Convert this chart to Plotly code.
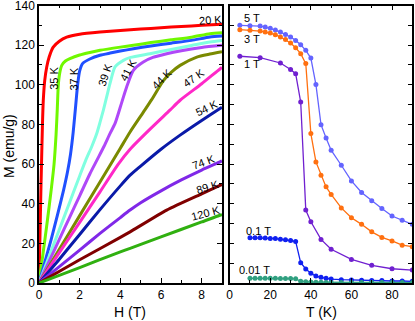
import plotly.graph_objects as go

W, H = 415, 321

# ---------------- Left panel: M(H) isotherms ----------------
temps = ["20 K", "35 K", "37 K", "39 K", "41 K", "44 K", "47 K", "54 K", "74 K", "89 K", "120 K"]
colors_l = ["#ff0000", "#70f800", "#2050ff", "#80ffe0", "#b048f8", "#7a8a00",
            "#ff28c8", "#0a1aa8", "#8028e8", "#800000", "#30b010"]

H_20 = [0, 0.03, 0.07, 0.1, 0.13, 0.17, 0.21, 0.28, 0.38, 0.5, 0.7, 1.0, 1.36, 2, 3, 4, 5, 6, 7, 8, 9]
M_20 = [0, 15, 35, 50, 63, 80, 92, 102, 109, 114, 119, 122, 124, 125.5, 126.6, 127.4, 128.1, 128.8, 129.4, 130, 130.5]

H_35 = [0, 0.2, 0.4, 0.6, 0.74, 0.84, 0.9, 0.95, 1.02, 1.12, 1.3, 1.52, 2, 2.5, 3, 4, 4.64, 5.5, 6.5, 7.5, 8.41, 9]
M_35 = [0, 15, 30.5, 47, 60, 75, 88, 100, 106, 109.8, 112, 113.2, 115, 116.3, 117.4, 119, 119.9, 121.3, 122.7, 124, 125.8, 126.3]

H_37 = [0, 0.3, 0.6, 0.9, 1.2, 1.4, 1.55, 1.68, 1.8, 1.9, 2.0, 2.15, 2.5, 3, 3.5, 4, 4.64, 5.5, 6.5, 7.5, 8.41, 9]
M_37 = [0, 11, 22, 34, 46.5, 56, 65, 76, 89, 100, 107, 110.8, 113, 114.9, 116, 117, 118.2, 119.6, 121, 122.4, 124.1, 124.6]

H_39 = [0, 0.5, 1, 1.5, 2, 2.3, 2.6, 2.84, 3.0, 3.16, 3.33, 3.49, 3.74, 4.15, 4.5, 5.46, 6.5, 7.5, 8.41, 9]
M_39 = [0, 13.5, 27, 40.5, 54, 62, 69, 75.4, 81, 87, 94, 100.6, 109, 112.3, 113.8, 115.7, 117.8, 119.8, 121.6, 122.4]

H_41 = [0, 0.5, 1, 1.5, 2, 2.5, 2.85, 3.2, 3.49, 3.74, 4.0, 4.31, 4.64, 5.13, 5.6, 6.28, 7, 8, 9]
M_41 = [0, 11, 22, 33, 44, 55, 62, 69, 75.4, 80.5, 88.8, 98.9, 107.3, 111.5, 113.8, 115.7, 117.2, 118.8, 119.9]

H_44 = [0, 1, 2, 3, 4, 4.48, 5.2, 5.54, 6.11, 6.5, 6.94, 7.76, 8.4, 9]
M_44 = [0, 17, 34, 51, 68, 76.2, 87.2, 92.5, 102, 106.3, 109.8, 114, 115.5, 116.7]

H_47 = [0, 1, 2, 3, 3.9, 4.48, 5.5, 6.44, 6.94, 8, 8.9, 9]
M_47 = [0, 15.3, 30.6, 46, 60, 67.5, 78, 87.2, 92.2, 100.5, 108, 108.7]

H_54 = [0, 1, 2, 3, 4, 4.48, 5, 6, 6.94, 8, 8.9, 9]
M_54 = [0, 12, 24.5, 37, 49, 54.4, 59, 67.5, 74.6, 82, 88, 88.6]

H_74 = [0, 1, 2, 3, 4, 4.48, 5, 6, 7, 8, 8.9, 9]
M_74 = [0, 8.3, 16.6, 25, 33, 36.8, 40.5, 46.5, 52, 57, 61.1, 61.6]

H_89 = [0, 2, 4, 4.48, 6.28, 8, 8.9, 9]
M_89 = [0, 11.7, 23, 25.8, 36.8, 45, 49.2, 49.6]

H_120 = [0, 2, 4, 4.48, 6, 8, 8.9, 9]
M_120 = [0, 7.8, 15.7, 17.5, 23.3, 30.8, 34.2, 34.5]

H_all = [H_20, H_35, H_37, H_39, H_41, H_44, H_47, H_54, H_74, H_89, H_120]
M_all = [M_20, M_35, M_37, M_39, M_41, M_44, M_47, M_54, M_74, M_89, M_120]

# label positions (data coords of left panel) and angles
lab_H = [8.41, 0.7, 1.72, 3.25, 4.39, 6.03, 7.59, 8.25, 8.11, 8.28, 8.21]
lab_M = [132.5, 103.1, 103.1, 104.8, 107.3, 103.1, 103.6, 88.5, 61.1, 48.5, 35.4]
lab_ang = [-4, -90, -90, -72, -62, -45, -35, -25, -20, -17, -15]

# ---------------- Right panel: M(T) at fixed field ----------------
fields = ["5 T", "3 T", "1 T", "0.1 T", "0.01 T"]
colors_r = ["#6464ff", "#ff7010", "#7020d0", "#1020f0", "#30a080"]

T_5 = [5, 10, 15, 17.5, 20, 22.5, 25, 27.5, 30, 32.5, 35, 37.5, 40, 42.5, 45, 47.5, 50,
       55, 60, 65, 70, 75, 80, 85, 90]
M_5 = [130, 129.8, 129.6, 129.1, 128.5, 127.6, 126.6, 125.4, 124.1, 122.4, 120.2, 117.4, 113.5,
       100.1, 79.9, 73.2, 67, 59.4, 51.5, 45.7, 41.5, 37.6, 33.8, 31.7, 29.6]

T_3 = [5, 10, 15, 17.5, 20, 22.5, 25, 27.5, 30, 32.5, 35, 37.5, 40, 42.5, 45, 47.5, 50,
       55, 60, 65, 70, 75, 80, 85, 90]
M_3 = [127.8, 127.5, 127.1, 126.6, 126.1, 125.3, 124.1, 122.8, 121.1, 118.7, 115.7, 110.7, 75.4,
       61.1, 54.4, 48.5, 44.7, 37.9, 32.9, 29.6, 25.8, 23, 21.2, 19.1, 18.3]

T_1 = [5, 15, 25, 30, 32.5, 35, 37.5, 40, 45, 50, 60, 70, 80, 90]
M_1 = [114.4, 113.7, 111, 107.7, 105.6, 91.3, 36.8, 30.9, 22, 17, 11.9, 8.9, 7.2, 6.5]

T_01 = [10, 12.5, 15, 17.5, 20, 22.5, 25, 27.5, 30, 32.5, 35, 37.5, 40, 42.5, 45, 47.5, 50,
        55, 60, 65, 70, 75, 80, 85, 90]
M_01 = [22.8, 22.8, 22.8, 22.7, 22.5, 22.4, 22.1, 21.8, 21.5, 21, 10.2, 7.1, 4.9, 3.5, 2.85, 2.35, 2.0,
        1.7, 1.5, 1.35, 1.2, 1.2, 1.0, 1.0, 0.85]

T_001 = [10, 12.5, 15, 17.5, 20, 22.5, 25, 27.5, 30, 32.5, 35, 37.5, 40, 42.5, 45, 47.5, 50,
         55, 60, 65, 70, 75, 80, 85, 90]
M_001 = [2.35, 2.35, 2.35, 2.35, 2.35, 2.35, 2.3, 2.3, 2.25, 2.1, 0.9, 0.6, 0.45, 0.4, 0.35, 0.3, 0.3,
         0.3, 0.25, 0.25, 0.25, 0.2, 0.2, 0.2, 0.2]

T_all = [T_5, T_3, T_1, T_01, T_001]
MT_all = [M_5, M_3, M_1, M_01, M_001]

lab_T = [10.8, 10.8, 10.8, 14.1, 12.4]
lab_MT = [133.9, 123.3, 110.7, 26.3, 6.5]

FONT = "Liberation Sans, Arial, Helvetica, sans-serif"

fig = go.Figure()

for h, m, c in zip(H_all, M_all, colors_l):
    fig.add_trace(go.Scatter(x=h, y=m, mode="lines",
                             line=dict(color=c, width=3, shape="spline", smoothing=0.6),
                             xaxis="x", yaxis="y", showlegend=False, hoverinfo="skip"))

for t, m, c in zip(T_all, MT_all, colors_r):
    fig.add_trace(go.Scatter(x=t, y=m, mode="lines+markers", line=dict(color=c, width=1.3),
                             marker=dict(color=c, size=5), xaxis="x2", yaxis="y2",
                             showlegend=False, hoverinfo="skip"))

ann = []
for txt, hx, my, a in zip(temps, lab_H, lab_M, lab_ang):
    ann.append(dict(x=hx, y=my, xref="x", yref="y", text=txt, showarrow=False,
                    xanchor="center", yanchor="middle",
                    textangle=a, font=dict(family=FONT, size=11, color="black")))
for txt, tx, my in zip(fields, lab_T, lab_MT):
    ann.append(dict(x=tx, y=my, xref="x2", yref="y2", text=txt, showarrow=False,
                    xanchor="center", yanchor="middle",
                    font=dict(family=FONT, size=11, color="black")))

common = dict(showline=True, linecolor="black", linewidth=1.5, mirror="ticks",
              ticks="inside", tickcolor="black", ticklen=5, tickwidth=1,
              showgrid=False, zeroline=False, automargin=False, ticklabeloverflow="allow",
              tickfont=dict(family=FONT, size=12, color="black"))

fig.update_layout(
    width=W, height=H,
    margin=dict(l=0, r=0, t=0, b=0),
    paper_bgcolor="white", plot_bgcolor="white",
    xaxis=dict(domain=[39 / W, 222 / W], range=[0, 9], dtick=2, tick0=0,
               minor=dict(dtick=1, ticks="inside", ticklen=3, tickcolor="black", showgrid=False),
               anchor="y", **common),
    yaxis=dict(domain=[1 - 283 / H, 1 - 5.5 / H], range=[0, 140], dtick=20, tick0=0,
               minor=dict(dtick=10, ticks="inside", ticklen=3, tickcolor="black", showgrid=False),
               anchor="x", **common),
    xaxis2=dict(domain=[229.7 / W, 412.3 / W], range=[0, 90], dtick=20, tick0=0,
                minor=dict(dtick=10, ticks="inside", ticklen=3, tickcolor="black", showgrid=False),
                anchor="y2", **common),
    yaxis2=dict(domain=[1 - 283 / H, 1 - 5.5 / H], range=[0, 140], dtick=10, tick0=0,
                showticklabels=False, anchor="x2", **common),
    annotations=ann + [
        dict(x=130 / W, y=1 - 312 / H, xref="paper", yref="paper", text="H (T)", showarrow=False,
             xanchor="center", yanchor="middle",
             font=dict(family=FONT, size=14, color="black")),
        dict(x=321.5 / W, y=1 - 312 / H, xref="paper", yref="paper", text="T (K)", showarrow=False,
             xanchor="center", yanchor="middle",
             font=dict(family=FONT, size=14, color="black")),
        dict(x=9 / W, y=1 - 146 / H, xref="paper", yref="paper", text="M (emu/g)", showarrow=False,
             xanchor="center", yanchor="middle",
             textangle=-90, font=dict(family=FONT, size=14, color="black")),
    ],
)

fig.write_html("out.html", config={"displayModeBar": False},
               post_script="document.body.style.margin='0';document.body.style.overflow='hidden';")
